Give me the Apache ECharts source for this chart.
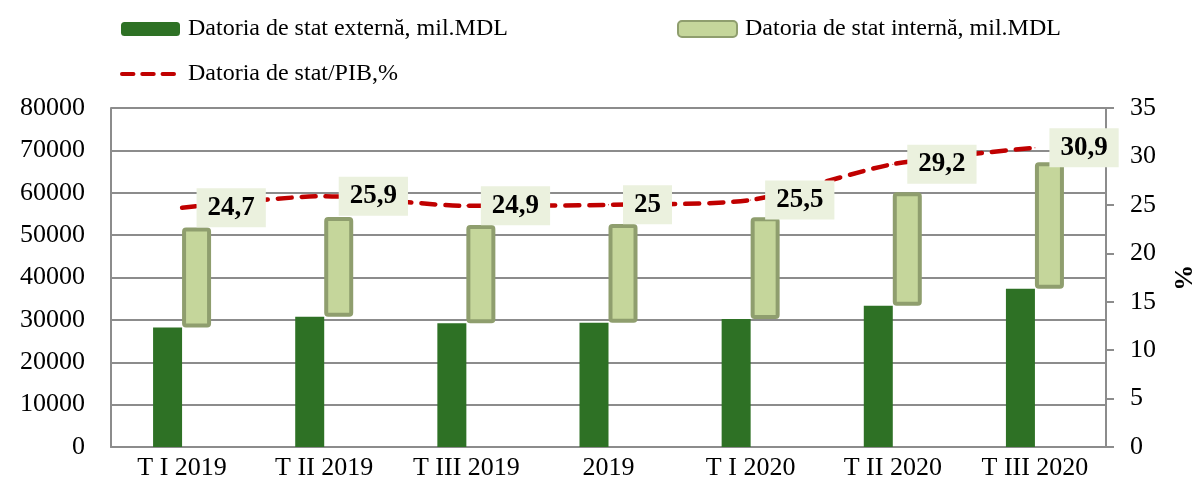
<!DOCTYPE html>
<html>
<head>
<meta charset="utf-8">
<script src="https://cdn.jsdelivr.net/npm/echarts@6/dist/echarts.min.js"></script>
<style>
  html, body { margin: 0; padding: 0; background: #fff; }
  #main { width: 1195px; height: 493px; }
</style>
</head>
<body>
<div id="main"></div>
<script>
// categorii (trimestre)
const categories = ['T I 2019', 'T II 2019', 'T III 2019', '2019', 'T I 2020', 'T II 2020', 'T III 2020'];
// datoria externa, mil.MDL
const externa = [28200, 30750, 29200, 29300, 30200, 33350, 37350];
// datoria interna, mil.MDL (stivuita peste externa)
const interna = [23600, 23550, 23200, 23350, 24000, 26750, 29850];
// datoria de stat / PIB, %
const pib = [24.7, 25.9, 24.9, 25, 25.5, 29.2, 30.9];

const numeExt = 'Datoria de stat externă, mil.MDL';
const numeInt = 'Datoria de stat internă, mil.MDL';
const numePib = 'Datoria de stat/PIB,%';

const font = '"Liberation Serif", "Times New Roman", serif';
const gri = '#8c8c8c';
// trei liniute rosii pentru legenda
const iconLiniute = 'path://M2,0h12a2,2 0 0 1 0,4h-12a2,2 0 0 1 0,-4z M23,0h12a2,2 0 0 1 0,4h-12a2,2 0 0 1 0,-4z M44,0h12a2,2 0 0 1 0,4h-12a2,2 0 0 1 0,-4z';

const chart = echarts.init(document.getElementById('main'), null, { renderer: 'canvas' });

chart.setOption({
  animation: false,
  textStyle: { fontFamily: font, color: '#000' },
  legend: [
    {
      data: [numeExt],
      left: 121, top: 17, padding: 0,
      itemWidth: 59, itemHeight: 14,
      textStyle: { fontFamily: font, fontSize: 24, color: '#000', padding: [0, 0, 0, 3] }
    },
    {
      data: [numeInt],
      left: 677, top: 17, padding: 0,
      itemWidth: 59, itemHeight: 16,
      textStyle: { fontFamily: font, fontSize: 24, color: '#000', padding: [0, 0, 0, 3] }
    },
    {
      data: [{ name: numePib, icon: iconLiniute }],
      left: 120, top: 62, padding: 0,
      itemWidth: 56, itemHeight: 5,
      itemStyle: { color: '#c00000' },
      textStyle: { fontFamily: font, fontSize: 24, color: '#000', padding: [0, 0, 0, 7] }
    }
  ],
  grid: { left: 111, right: 89, top: 108, bottom: 46, outerBoundsMode: 'none' },
  xAxis: {
    type: 'category',
    data: categories,
    axisLine: { lineStyle: { color: gri, width: 2 } },
    axisTick: { show: false },
    axisLabel: { fontFamily: font, fontSize: 26, color: '#000', margin: 8, interval: 0 }
  },
  yAxis: [
    {
      type: 'value',
      min: 0, max: 80000, interval: 10000,
      axisLine: { show: true, lineStyle: { color: gri, width: 2 } },
      axisTick: { show: false },
      splitLine: { lineStyle: { color: gri, width: 2 } },
      axisLabel: { fontFamily: font, fontSize: 26, color: '#000', margin: 26, formatter: v => String(v) }
    },
    {
      type: 'value',
      min: 0, max: 35, interval: 5,
      position: 'right',
      name: '%',
      nameLocation: 'middle',
      nameGap: 63,
      nameRotate: -90,
      nameTextStyle: { fontFamily: font, fontSize: 26, fontWeight: 'bold', color: '#000' },
      axisLine: { show: true, lineStyle: { color: gri, width: 2 } },
      axisTick: { show: true, length: 8, lineStyle: { color: gri, width: 2 } },
      splitLine: { show: false },
      axisLabel: { fontFamily: font, fontSize: 26, color: '#000', margin: 24 }
    }
  ],
  series: [
    {
      name: numeExt,
      type: 'bar',
      data: externa,
      barWidth: 29,
      barGap: '0%',
      itemStyle: { color: '#2e7125' },
      z: 2
    },
    {
      name: 'baza',
      type: 'bar',
      stack: 'int',
      data: externa,
      barWidth: 29,
      itemStyle: { color: 'rgba(0,0,0,0)' },
      silent: true,
      z: 2
    },
    {
      name: numeInt,
      type: 'bar',
      stack: 'int',
      data: interna,
      barWidth: 29,
      itemStyle: { color: '#c5d69b', borderColor: '#8f9e6e', borderWidth: 4, borderRadius: 2 },
      z: 3
    },
    {
      name: numePib,
      type: 'line',
      yAxisIndex: 1,
      data: pib,
      smooth: 0.25,
      symbol: 'circle',
      symbolSize: 1,
      itemStyle: { color: '#c00000' },
      lineStyle: { color: '#c00000', width: 4.5, type: [14, 10], cap: 'round' },
      label: {
        show: true,
        position: 'right',
        distance: 14,
        fontFamily: font,
        fontSize: 27,
        fontWeight: 'bold',
        color: '#000',
        backgroundColor: '#ebf1de',
        padding: [7, 11, 5, 11],
        formatter: p => String(p.value).replace('.', ',')
      },
      z: 5
    }
  ]
});
</script>
</body>
</html>
